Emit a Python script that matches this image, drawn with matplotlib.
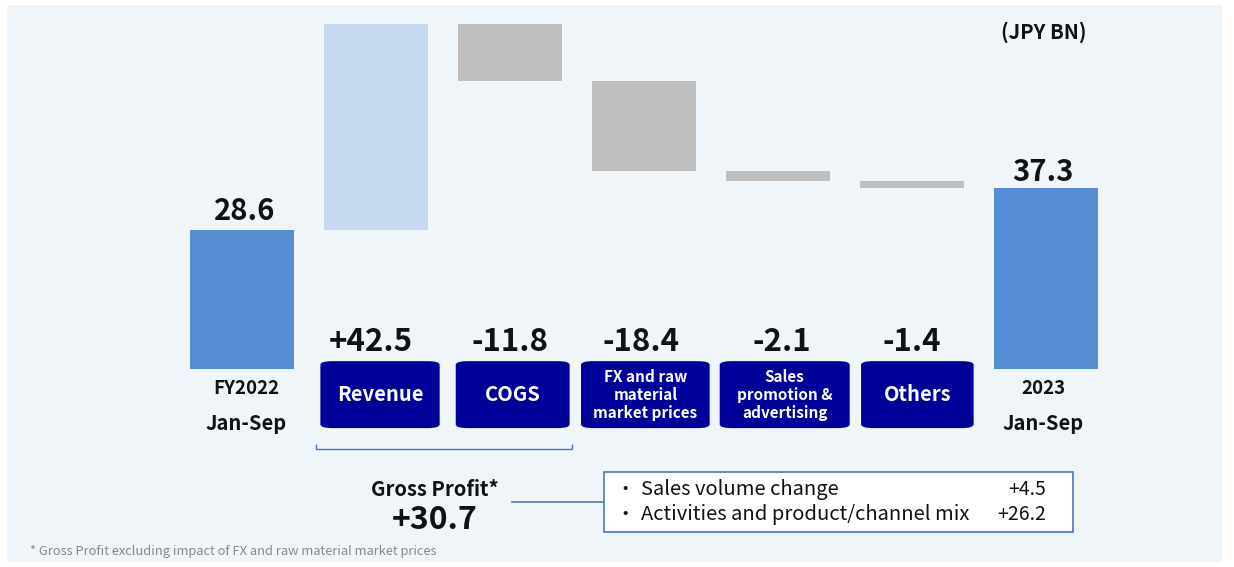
import matplotlib.pyplot as plt
from matplotlib.patches import FancyBboxPatch, Rectangle

plt.rcParams['font.family'] = ['Noto Sans CJK JP', 'DejaVu Sans']

## --- Data
start_label = 'FY2022\nJan-Sep'
end_label = '2023\nJan-Sep'
start_value = 28.6
end_value = 37.3
steps = ['Revenue', 'COGS', 'FX and raw\nmaterial\nmarket prices',
         'Sales\npromotion &\nadvertising', 'Others']
step_values = [42.5, -11.8, -18.4, -2.1, -1.4]
step_texts = ['+42.5', '-11.8', '-18.4', '-2.1', '-1.4']
gp_items = ['Sales volume change', 'Activities and product/channel mix']
gp_values = ['+4.5', '+26.2']
gp_total = '+30.7'

## --- Layout of the label boxes (offset from bar centre, width)
box_dx = [0.03, 0.02, 0.01, 0.05, 0.04]
box_w = [0.89, 0.85, 0.96, 0.97, 0.84]
txt_dx = [-0.04, 0.0, -0.02, 0.03, 0.0]

## --- Colours
c_total = '#558ED5'
c_up = '#C6D9F1'
c_down = '#BFBFBF'
c_box = '#000099'
c_line = '#4A76C0'
c_bg = '#F0F5FA'

fig = plt.figure(figsize=(12.34, 5.67), dpi=100)
fig.patch.set_facecolor('white')
ax = fig.add_axes([0, 0, 1, 1])
ax.set_xlim(-1.806, 7.403)
ax.set_ylim(-40.8, 76.1)
ax.axis('off')

# light panel behind everything
fig.patches.append(Rectangle((7 / 1234, 5 / 567), 1215 / 1234, 557 / 567,
                             transform=fig.transFigure, facecolor=c_bg,
                             edgecolor='none', zorder=-1))

w = 0.77
# start and end bars
ax.bar(0, start_value, width=w, color=c_total, zorder=2)
ax.bar(6, end_value, width=w, color=c_total, zorder=2)
ax.text(0.02, start_value + 4.0, f'{start_value}', ha='center', va='center',
        fontsize=21, fontweight='bold', color='#111111')
ax.text(5.98, end_value + 3.4, f'{end_value}', ha='center', va='center',
        fontsize=21, fontweight='bold', color='#111111')

# floating steps
level = start_value
for i, v in enumerate(step_values, start=1):
    bottom = level if v > 0 else level + v
    ax.bar(i, abs(v), bottom=bottom, width=w,
           color=c_up if v > 0 else c_down, zorder=2)
    level += v

# value labels and category boxes
for i, (name, txt) in enumerate(zip(steps, step_texts), start=1):
    ax.text(i + txt_dx[i - 1], 5.6, txt, ha='center', va='center',
            fontsize=22.5, fontweight='bold', color='#111111')
    bw = box_w[i - 1]
    cx = i + box_dx[i - 1]
    box = FancyBboxPatch((cx - bw / 2, -12.16), bw, 13.8,
                         boxstyle='round,pad=0,rounding_size=0.09',
                         mutation_aspect=8.5, facecolor=c_box,
                         edgecolor='none', zorder=3)
    ax.add_patch(box)
    multi = '\n' in name
    ax.text(cx, -5.3, name, ha='center', va='center', color='white',
            fontsize=11 if multi else 14.5, fontweight='bold',
            linespacing=1.15, zorder=4)

# start / end captions
for x, lab in [(0.03, start_label), (5.98, end_label)]:
    top, bot = lab.split('\n')
    ax.text(x, -4.0, top, ha='center', va='center', fontsize=13.5,
            fontweight='bold', color='#111111')
    ax.text(x, -11.3, bot, ha='center', va='center', fontsize=14.5,
            fontweight='bold', color='#111111')

ax.text(5.985, 69.5, '(JPY BN)', ha='center', va='center', fontsize=14.5,
        fontweight='bold', color='#111111')

# bracket under Revenue + COGS
bx0, bx1, by = 0.552, 2.463, -16.5
ax.plot([bx0, bx0, bx1, bx1], [by + 1.0, by, by, by + 1.0], color=c_line,
        lw=1.0, solid_capstyle='butt')

# gross profit summary
ax.text(1.44, -24.9, 'Gross Profit*', ha='center', va='center', fontsize=14.5,
        fontweight='bold', color='#111111')
ax.text(1.44, -31.2, gp_total, ha='center', va='center', fontsize=23,
        fontweight='bold', color='#111111')
ax.plot([2.015, 2.70], [-27.5, -27.5], color=c_line, lw=1.2)
ax.add_patch(Rectangle((2.70, -33.6), 3.50, 12.4, facecolor='white',
                       edgecolor=c_line, lw=1.2, zorder=3))
for k, (item, val) in enumerate(zip(gp_items, gp_values)):
    yy = -24.8 - k * 5.2
    ax.text(2.79, yy, '・', ha='left', va='center', fontsize=14,
            color='#111111', zorder=4)
    ax.text(2.98, yy, item, ha='left', va='center', fontsize=14.5,
            color='#111111', zorder=4)
    ax.text(6.0, yy, val, ha='right', va='center', fontsize=14,
            color='#111111', zorder=4)

ax.text(-1.585, -37.6, '* Gross Profit excluding impact of FX and raw material market prices',
        ha='left', va='center', fontsize=9.3, color='#888888')

plt.savefig('out.png', dpi=100, facecolor=fig.get_facecolor())
plt.close()
